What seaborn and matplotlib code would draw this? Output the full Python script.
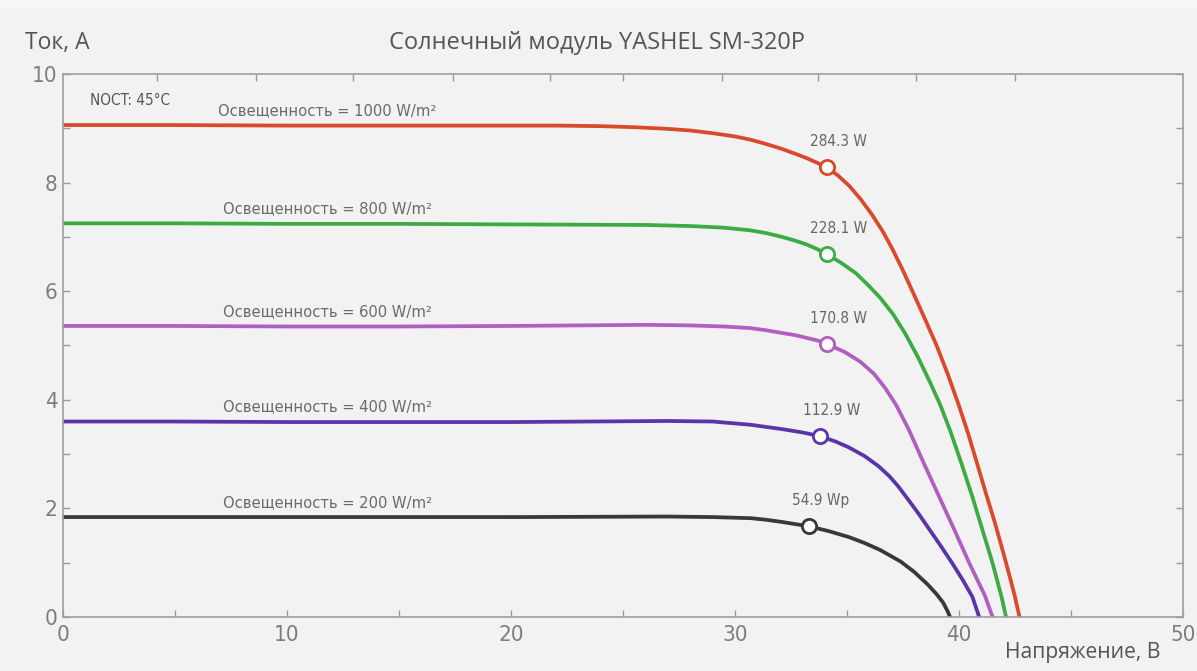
import numpy as np
import pandas as pd
import seaborn as sns
import matplotlib.pyplot as plt
from matplotlib.patches import Rectangle

# I-V curves (voltage V, current A)
v_1000 = [0, 5, 10, 15, 20, 22, 24, 25.5, 27, 28, 29, 30, 30.7, 31.4, 32.1, 32.7, 33.2, 33.7, 34.1,
          34.6, 35.1, 35.6, 36.1, 36.6, 37.05, 37.5, 38.0, 38.5, 39.0, 39.5, 40.0, 40.4, 40.8, 41.2,
          41.6, 42.0, 42.3, 42.5, 42.7]
i_1000 = [9.06, 9.06, 9.05, 9.05, 9.05, 9.05, 9.04, 9.02, 8.99, 8.96, 8.91, 8.85, 8.79, 8.71, 8.62,
          8.53, 8.45, 8.36, 8.28, 8.13, 7.94, 7.70, 7.42, 7.10, 6.76, 6.38, 5.93, 5.47, 5.00, 4.47,
          3.89, 3.39, 2.84, 2.28, 1.74, 1.15, 0.69, 0.37, 0.0]
v_800 = [0, 5, 10, 15, 20, 26, 28, 29.5, 30.7, 31.4, 32.1, 32.7, 33.2, 33.7, 34.1, 34.75, 35.4, 35.95,
         36.5, 37.05, 37.6, 38.15, 38.7, 39.15, 39.6, 40.1, 40.6, 41.05, 41.5, 41.9, 42.1]
i_800 = [7.25, 7.25, 7.24, 7.24, 7.23, 7.22, 7.20, 7.17, 7.12, 7.07, 7.00, 6.93, 6.86, 6.77, 6.68,
         6.52, 6.33, 6.11, 5.87, 5.58, 5.22, 4.80, 4.33, 3.92, 3.44, 2.84, 2.21, 1.60, 0.99, 0.37, 0.0]
v_600 = [0, 5, 10, 15, 20, 26, 28, 29.5, 30.7, 31.4, 32.1, 32.7, 33.2, 33.7, 34.1, 34.9, 35.6, 36.2,
         36.7, 37.2, 37.75, 38.42, 39.12, 39.8, 40.45, 41.15, 41.5]
i_600 = [5.36, 5.36, 5.35, 5.35, 5.36, 5.38, 5.37, 5.35, 5.32, 5.28, 5.23, 5.19, 5.14, 5.09, 5.03,
         4.88, 4.70, 4.48, 4.22, 3.90, 3.46, 2.84, 2.21, 1.60, 1.00, 0.40, 0.0]
v_400 = [0, 5, 10, 15, 20, 27, 29, 30.7, 31.4, 32.1, 33.0, 33.8, 34.5, 35.1, 35.8, 36.4, 36.9, 37.3,
         37.7, 38.2, 38.7, 39.2, 39.7, 40.2, 40.6, 40.9]
i_400 = [3.60, 3.60, 3.59, 3.59, 3.59, 3.61, 3.60, 3.54, 3.50, 3.46, 3.40, 3.33, 3.23, 3.12, 2.96,
         2.78, 2.59, 2.40, 2.18, 1.90, 1.60, 1.30, 0.99, 0.66, 0.37, 0.0]
v_200 = [0, 5, 10, 15, 20, 27, 29, 30.7, 31.4, 32.1, 32.7, 33.3, 34.2, 35.1, 35.8, 36.5, 37.4, 38.0,
         38.6, 39.0, 39.3, 39.5, 39.6]
i_200 = [1.84, 1.84, 1.84, 1.84, 1.84, 1.85, 1.84, 1.82, 1.79, 1.75, 1.71, 1.67, 1.58, 1.47, 1.36,
         1.23, 1.02, 0.83, 0.60, 0.42, 0.26, 0.10, 0.0]

irradiance = [1000, 800, 600, 400, 200]
curves_v = [v_1000, v_800, v_600, v_400, v_200]
curves_i = [i_1000, i_800, i_600, i_400, i_200]

# maximum power points
mpp_v = [34.1, 34.1, 34.1, 33.8, 33.3]
mpp_i = [8.28, 6.68, 5.03, 3.33, 1.67]
mpp_labels = ["284.3 W", "228.1 W", "170.8 W", "112.9 W", "54.9 Wp"]

colors = {1000: "#d84a2b", 800: "#3cab45", 600: "#b05ec0", 400: "#5a34a9", 200: "#383838"}

rows = []
for g, vs, cs in zip(irradiance, curves_v, curves_i):
    for k, (v, c) in enumerate(zip(vs, cs)):
        rows.append({"irr": g, "order": k, "V": v, "I": c})
df = pd.DataFrame(rows)

sns.set_theme(style="white")
plt.rcParams["font.family"] = ["DejaVu Sans"]
plt.rcParams["font.stretch"] = "condensed"
bg = "#f2f2f2"
grey = "#7d7d7d"

fig = plt.figure(figsize=(11.97, 6.71), dpi=100, facecolor=bg)
fig.patches.append(Rectangle((0, 0.988), 1, 0.012, transform=fig.transFigure,
                             facecolor="#f5f7f8", edgecolor="none", zorder=-1))
ax = fig.add_axes([0.0526, 0.0805, 0.9357, 0.8092])
ax.set_facecolor(bg)

sns.lineplot(data=df, x="V", y="I", hue="irr", units="irr", estimator=None,
             sort=False, palette=colors, linewidth=2.7, legend=False, ax=ax)

for g, v, c, lab in zip(irradiance, mpp_v, mpp_i, mpp_labels):
    ax.scatter([v], [c], s=105, facecolors="white", edgecolors=colors[g],
               linewidths=2, zorder=5)
    ax.annotate(lab, (v, c), xytext=(-12, 13), textcoords="offset points",
                fontsize=11, color="#666666", ha="left", va="bottom")

for g, vs, cs in zip(irradiance, curves_v, curves_i):
    ax.text(11.8, cs[1] + 0.27, f"Освещенность = {g} W/m²", fontsize=11.8,
            color="#6a6a6a", ha="center", va="center")

ax.text(1.2, 9.52, "NOCT: 45°C", fontsize=11, color="#555555", ha="left", va="center")

ax.set_xlim(0, 50)
ax.set_ylim(0, 10)
ax.set_xticks([0, 10, 20, 30, 40, 50])
ax.set_xticks([5, 15, 25, 35, 45], minor=True)
ax.set_yticks([0, 2, 4, 6, 8, 10])
ax.set_yticks([1, 3, 5, 7, 9], minor=True)
ax.tick_params(which="both", direction="in", length=5, width=1, color="#9a9a9a",
               left=True, bottom=True, right=True, labelsize=16, labelcolor=grey)
ax.tick_params(axis="x", pad=6)
ax.tick_params(axis="y", pad=4)
top = ax.secondary_xaxis("top")
top.set_xticks([4.2, 8.6, 12.95, 17.4, 21.75, 25.0, 29.4, 33.7, 38.1, 42.5])
top.tick_params(direction="in", length=5, width=1, color="#9a9a9a", labeltop=False)
top.spines["top"].set_visible(False)
for s in ax.spines.values():
    s.set_color("#9f9f9f")
    s.set_linewidth(1.2)
ax.set_xlabel("")
ax.set_ylabel("")

head = dict(family=["Open Sans", "DejaVu Sans"], stretch="normal", color="#555555", va="center")
fig.text(0.499, 0.936, "Солнечный модуль YASHEL SM-320P", fontsize=17, ha="center", **head)
fig.text(0.021, 0.936, "Ток, А", fontsize=16.5, ha="left", **head)
fig.text(0.9695, 0.027, "Напряжение, В", fontsize=15.2, ha="right", **head)

fig.savefig("out.png", dpi=100, facecolor=bg)
